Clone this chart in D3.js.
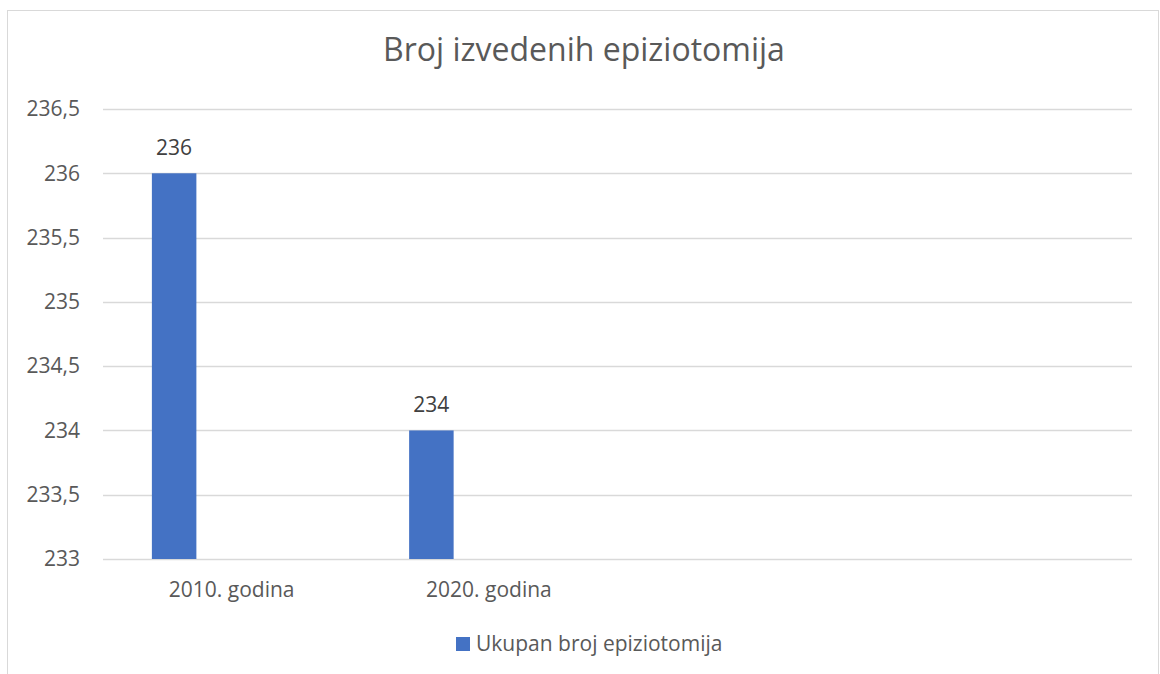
<!DOCTYPE html>
<html>
<head>
<meta charset="utf-8">
<script src="https://cdn.jsdelivr.net/npm/d3@7"></script>
<style>
  body { margin: 0; background: #fff; }
  text { font-family: "Open Sans", sans-serif; }
</style>
</head>
<body>
<svg id="chart" width="1160" height="674"></svg>
<script>
// chart data
const title = "Broj izvedenih epiziotomija";
const seriesName = "Ukupan broj epiziotomija";
const categories = ["2010. godina", "2020. godina", "", ""];
const values = [236, 234, null, null];
const yTicks = [233, 233.5, 234, 234.5, 235, 235.5, 236, 236.5];

const width = 1160, height = 674;
const margin = { top: 109, right: 28, bottom: 115, left: 103 };
const svg = d3.select("#chart");

const fmt = d3.formatLocale({ decimal: ",", thousands: ".", grouping: [3], currency: ["", ""] }).format("~g");

// chart frame
svg.append("rect")
  .attr("x", 7.5).attr("y", 10.5)
  .attr("width", 1151).attr("height", 700)
  .attr("fill", "none")
  .attr("stroke", "#d9d9d9");

const x = d3.scaleBand()
  .domain(d3.range(categories.length))
  .range([margin.left, width - margin.right]);

// bar sits in the left part of each category slot
const x1 = d3.scaleBand()
  .domain([seriesName])
  .range([x.bandwidth() * 0.19, x.bandwidth() * 0.363]);

const y = d3.scaleLinear()
  .domain([233, 236.5])
  .range([height - margin.bottom, margin.top]);

// gridlines
svg.append("g")
  .selectAll("line")
  .data(yTicks)
  .join("line")
  .attr("x1", margin.left).attr("x2", width - margin.right)
  .attr("y1", (d) => Math.round(y(d)) + 0.5)
  .attr("y2", (d) => Math.round(y(d)) + 0.5)
  .attr("stroke", "#d9d9d9")
  .attr("stroke-width", 1.3);

// y axis labels
const yAxis = svg.append("g")
  .attr("transform", `translate(${margin.left},0)`)
  .call(d3.axisLeft(y).tickValues(yTicks).tickFormat(fmt).tickSize(0).tickPadding(23));
yAxis.select(".domain").remove();
yAxis.selectAll("text")
  .attr("font-size", 21)
  .attr("fill", "#595959")
  .attr("font-family", "Open Sans");

// x axis labels
const xAxis = svg.append("g")
  .attr("transform", `translate(0,${height - margin.bottom})`)
  .call(d3.axisBottom(x).tickFormat((i) => categories[i]).tickSize(0).tickPadding(23));
xAxis.select(".domain").remove();
xAxis.selectAll("text")
  .attr("font-size", 21)
  .attr("fill", "#595959")
  .attr("font-family", "Open Sans");

const barData = values
  .map((v, i) => ({ i, v }))
  .filter((d) => d.v != null);

// bars
svg.append("g")
  .selectAll("rect")
  .data(barData)
  .join("rect")
  .attr("x", (d) => x(d.i) + x1(seriesName))
  .attr("y", (d) => y(d.v))
  .attr("width", x1.bandwidth())
  .attr("height", (d) => y(233) - y(d.v))
  .attr("fill", "#4472c4");

// data labels
svg.append("g")
  .selectAll("text")
  .data(barData)
  .join("text")
  .attr("x", (d) => x(d.i) + x1(seriesName) + x1.bandwidth() / 2)
  .attr("y", (d) => y(d.v) - 18.5)
  .attr("text-anchor", "middle")
  .attr("font-size", 21)
  .attr("fill", "#404040")
  .text((d) => d.v);

// title
svg.append("text")
  .attr("x", 584).attr("y", 61)
  .attr("text-anchor", "middle")
  .attr("font-size", 32)
  .attr("fill", "#595959")
  .text(title);

// legend
const legend = svg.append("g").attr("transform", "translate(456,637)");
legend.append("rect")
  .attr("width", 14).attr("height", 14)
  .attr("fill", "#4472c4");
legend.append("text")
  .attr("x", 20).attr("y", 14)
  .attr("font-size", 21)
  .attr("fill", "#595959")
  .text(seriesName);
</script>
</body>
</html>
